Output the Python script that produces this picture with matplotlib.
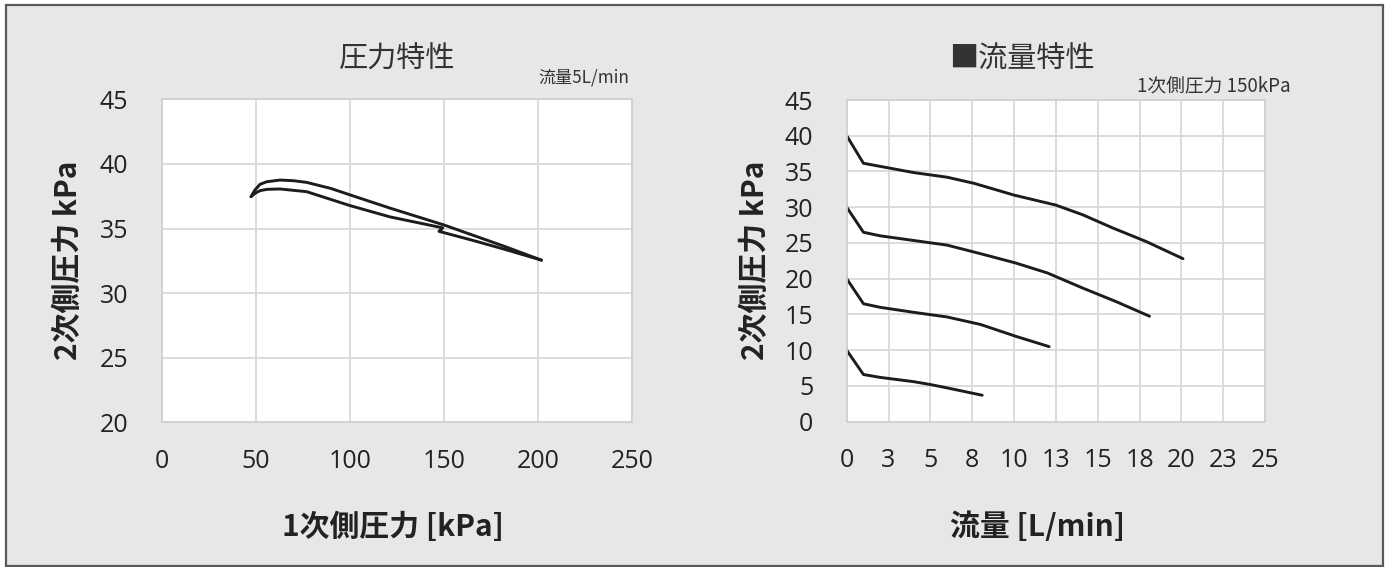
import matplotlib
matplotlib.use("Agg")
import matplotlib.pyplot as plt
from matplotlib.patches import Rectangle

plt.rcParams['font.family'] = ['Noto Sans CJK JP', 'DejaVu Sans']

# ---- Pressure characteristics (primary vs secondary pressure, 5 L/min) ----
p1_upper = [47.5, 49.6, 52.3, 55.9, 62.9, 70.0, 77.1, 90.0, 100.2, 121.4, 150.0, 181.7, 202.0]
p2_upper = [37.46, 37.98, 38.42, 38.62, 38.75, 38.70, 38.57, 38.10, 37.60, 36.58, 35.28, 33.65, 32.55]

p1_lower = [47.5, 49.6, 52.3, 55.9, 62.9, 77.1, 100.2, 121.4, 149.5, 147.5, 165.0, 181.7, 202.0]
p2_lower = [37.46, 37.72, 37.93, 38.03, 38.06, 37.85, 36.77, 35.90, 35.05, 34.78, 34.10, 33.42, 32.55]

# ---- Flow characteristics (secondary pressure vs flow, primary 150 kPa) ----
flow_40 = [0, 1.0, 4.0, 6.0, 7.6, 10.0, 12.5, 14.1, 15.9, 17.9, 20.1]
pres_40 = [40.0, 36.15, 34.85, 34.2, 33.35, 31.7, 30.3, 28.95, 27.1, 25.2, 22.8]

flow_30 = [0, 1.0, 2.0, 4.0, 6.0, 8.0, 10.1, 12.0, 14.1, 16.1, 18.1]
pres_30 = [30.0, 26.5, 26.0, 25.35, 24.7, 23.5, 22.2, 20.8, 18.7, 16.8, 14.75]

flow_20 = [0, 1.0, 2.0, 4.0, 6.0, 8.0, 10.1, 12.1]
pres_20 = [20.0, 16.5, 16.0, 15.3, 14.65, 13.6, 11.95, 10.5]

flow_10 = [0, 1.0, 2.0, 4.0, 5.0, 6.0, 8.1]
pres_10 = [10.0, 6.6, 6.2, 5.6, 5.2, 4.73, 3.7]

left_xticks = [0, 50, 100, 150, 200, 250]
left_yticks = [20, 25, 30, 35, 40, 45]
right_xticks = [0, 2.5, 5, 7.5, 10, 12.5, 15, 17.5, 20, 22.5, 25]
right_xticklabels = ["0", "3", "5", "8", "10", "13", "15", "18", "20", "23", "25"]
right_yticks = [0, 5, 10, 15, 20, 25, 30, 35, 40, 45]

W, H = 1389, 567
fig = plt.figure(figsize=(W / 100, H / 100), dpi=100)
fig.patch.set_facecolor('white')

BG = '#e6e7e9'
GRID = '#d9d9d9'
LINE = '#1c1c1c'
TXT = '#222222'
NUMFONT = ['Open Sans', 'DejaVu Sans']

# chart background panel with dark border
fig.add_artist(Rectangle((5.5 / W, 1 - 565.5 / H), 1377.5 / W, 560.5 / H,
                         transform=fig.transFigure, facecolor=BG,
                         edgecolor='#595959', linewidth=1.6, zorder=0))


def px_axes(x0, y0, x1, y1):
    return fig.add_axes([x0 / W, 1 - y1 / H, (x1 - x0) / W, (y1 - y0) / H])


def style(ax, xticks, yticks, xlim, ylim):
    ax.set_facecolor('white')
    ax.set_xlim(*xlim)
    ax.set_ylim(*ylim)
    ax.set_xticks(xticks)
    ax.set_yticks(yticks)
    ax.grid(True, color=GRID, linewidth=1.3)
    ax.set_axisbelow(True)
    for s in ax.spines.values():
        s.set_color('#d0d0d0')
        s.set_linewidth(1.3)
    ax.tick_params(length=0, labelsize=18, colors=TXT)
    ax.tick_params(axis='x', pad=19)
    ax.tick_params(axis='y', pad=24)
    for lab in ax.get_xticklabels() + ax.get_yticklabels():
        lab.set_family(NUMFONT)


# left chart
axL = px_axes(161.7, 99.3, 631.7, 422.3)
style(axL, left_xticks, left_yticks, (0, 250), (20, 45))
axL.plot(p1_upper, p2_upper, color=LINE, linewidth=2.1, solid_capstyle='round')
axL.plot(p1_lower, p2_lower, color=LINE, linewidth=2.1, solid_capstyle='round')

# right chart
axR = px_axes(846.7, 100.0, 1265.0, 421.7)
style(axR, right_xticks, right_yticks, (0, 25), (0, 45))
axR.set_xticklabels(right_xticklabels, family=NUMFONT, fontsize=18)
for fx, py in [(flow_40, pres_40), (flow_30, pres_30), (flow_20, pres_20), (flow_10, pres_10)]:
    axR.plot(fx, py, color=LINE, linewidth=2.1, solid_capstyle='round')


def ftext(x, y, s, **kw):
    fig.text(x / W, 1 - y / H, s, **kw)


# titles
ftext(397, 60, "圧力特性", fontsize=21, color='#333333', ha='center', va='center')
ftext(584, 78, "流量5L/min", fontsize=12.3, color='#333333', ha='center', va='center')
ftext(1022, 60, "■流量特性", fontsize=21, color='#333333', ha='center', va='center')
ftext(1214, 86, "1次側圧力 150kPa", fontsize=13.5, color='#333333', ha='center', va='center')

# axis titles
ftext(68, 260, "2次側圧力 kPa", fontsize=21.5, fontweight='bold', color=TXT,
      rotation=90, ha='center', va='center')
ftext(393, 527, "1次側圧力 [kPa]", fontsize=21.5, fontweight='bold', color=TXT,
      ha='center', va='center')
ftext(755, 260, "2次側圧力 kPa", fontsize=21.5, fontweight='bold', color=TXT,
      rotation=90, ha='center', va='center')
ftext(1038, 527, "流量 [L/min]", fontsize=21.5, fontweight='bold', color=TXT,
      ha='center', va='center')

fig.savefig("out.png", dpi=100, facecolor='white')
